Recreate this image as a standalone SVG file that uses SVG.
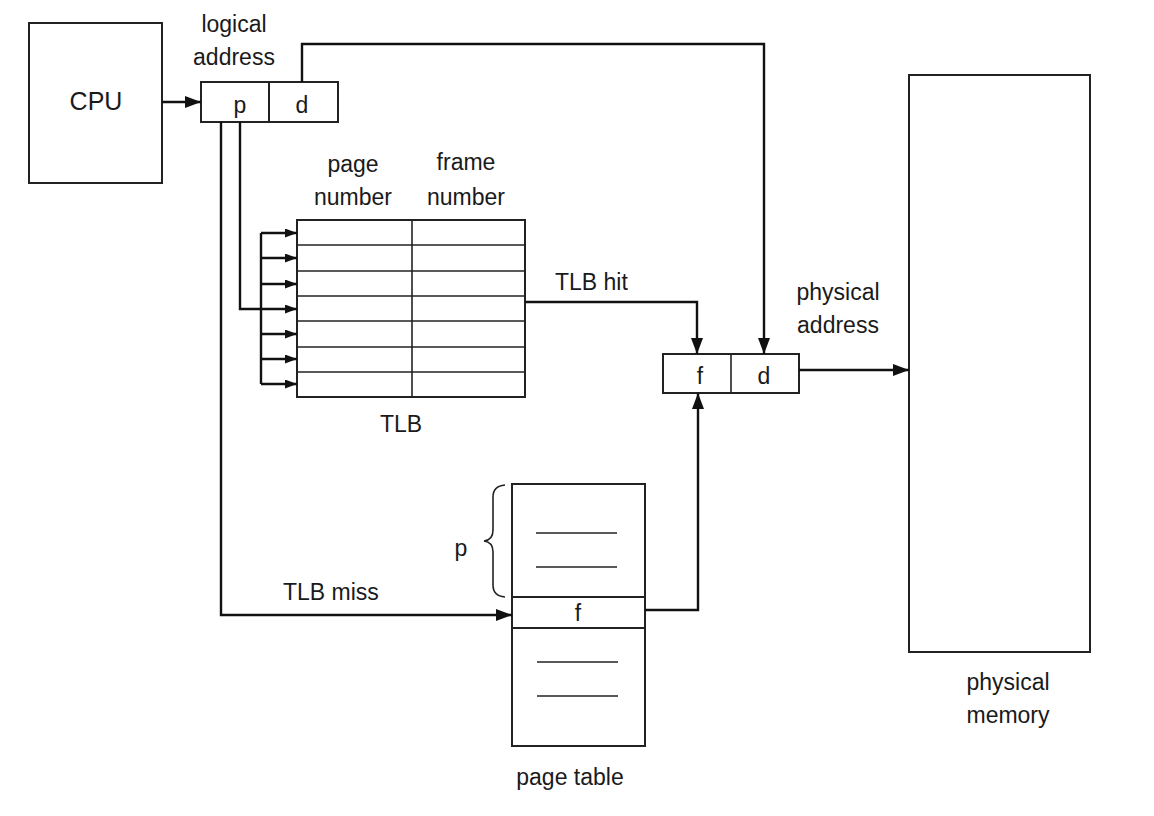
<svg xmlns="http://www.w3.org/2000/svg" width="1154" height="816" viewBox="0 0 1154 816">
<defs>
<marker id="arr" viewBox="0 0 16 12" refX="16" refY="6" markerWidth="16" markerHeight="12" markerUnits="userSpaceOnUse" orient="auto">
<path d="M0,0 L16,6 L0,12 z" fill="#111"/>
</marker>
<marker id="arrs" viewBox="0 0 12 9" refX="12" refY="4.5" markerWidth="12" markerHeight="9" markerUnits="userSpaceOnUse" orient="auto">
<path d="M0,0 L12,4.5 L0,9 z" fill="#111"/>
</marker>
</defs>
<style>
.box{fill:#fff;stroke:#222;stroke-width:2}
.ln{fill:none;stroke:#222;stroke-width:2}
.th{fill:none;stroke:#222;stroke-width:1.6}
.c{fill:none;stroke:#111;stroke-width:2.4}
text{font-family:"Liberation Sans",Arial,sans-serif;font-size:23px;fill:#1a1a1a}
.m{text-anchor:middle}
</style>
<rect width="1154" height="816" fill="#fff"/>

<g id="cpu">
<rect class="box" x="29" y="23" width="133" height="160"/>
<text class="m" x="96" y="110" style="font-size:25px">CPU</text>
</g>

<g id="logical-address">
<text class="m" x="234" y="32">logical</text>
<text class="m" x="234" y="65">address</text>
<rect class="box" x="201" y="82" width="137" height="40"/>
<line class="ln" x1="269" y1="82" x2="269" y2="122"/>
<text class="m" x="240" y="113">p</text>
<text class="m" x="302" y="113">d</text>
</g>

<g id="tlb">
<text class="m" x="353" y="172">page</text>
<text class="m" x="353" y="205">number</text>
<text class="m" x="466" y="170">frame</text>
<text class="m" x="466" y="205">number</text>
<rect class="box" x="297" y="220" width="228" height="177"/>
<line class="th" x1="412" y1="220" x2="412" y2="397"/>
<line class="th" x1="297" y1="245" x2="525" y2="245"/>
<line class="th" x1="297" y1="271" x2="525" y2="271"/>
<line class="th" x1="297" y1="296" x2="525" y2="296"/>
<line class="th" x1="297" y1="321" x2="525" y2="321"/>
<line class="th" x1="297" y1="347" x2="525" y2="347"/>
<line class="th" x1="297" y1="372" x2="525" y2="372"/>
<text class="m" x="401" y="432">TLB</text>
</g>

<g id="physical-address">
<text class="m" x="838" y="300">physical</text>
<text class="m" x="838" y="333">address</text>
<rect class="box" x="663" y="354" width="136" height="39"/>
<line class="th" x1="731" y1="354" x2="731" y2="393"/>
<text class="m" x="700" y="384">f</text>
<text class="m" x="764" y="384">d</text>
</g>

<g id="page-table">
<rect class="box" x="512" y="484" width="133" height="262"/>
<line class="ln" x1="512" y1="597" x2="645" y2="597"/>
<line class="ln" x1="512" y1="628" x2="645" y2="628"/>
<line class="th" x1="536" y1="533" x2="617" y2="533"/>
<line class="th" x1="536" y1="567" x2="617" y2="567"/>
<line class="th" x1="537" y1="662" x2="618" y2="662"/>
<line class="th" x1="537" y1="696" x2="618" y2="696"/>
<text class="m" x="578" y="621">f</text>
<path class="th" d="M505,485 Q493,486 493,497 L493,530 Q493,540 484,541 Q493,542 493,552 L493,585 Q493,596 505,597"/>
<text class="m" x="461" y="556">p</text>
<text class="m" x="570" y="785">page table</text>
</g>

<g id="physical-memory">
<rect class="box" x="909" y="75" width="181" height="577"/>
<text class="m" x="1008" y="690">physical</text>
<text class="m" x="1008" y="723">memory</text>
</g>

<g id="connectors">
<line class="c" x1="162" y1="102" x2="201" y2="102" marker-end="url(#arr)"/>
<polyline class="c" points="302,82 302,44 764,44 764,354" marker-end="url(#arr)"/>
<polyline class="c" points="221,122 221,615 512,615" marker-end="url(#arr)"/>
<polyline class="c" points="240,122 240,309 297,309" marker-end="url(#arrs)"/>
<line class="c" x1="261" y1="233" x2="261" y2="384"/>
<line class="c" x1="261" y1="233" x2="297" y2="233" marker-end="url(#arrs)"/>
<line class="c" x1="261" y1="258" x2="297" y2="258" marker-end="url(#arrs)"/>
<line class="c" x1="261" y1="284" x2="297" y2="284" marker-end="url(#arrs)"/>
<line class="c" x1="261" y1="334" x2="297" y2="334" marker-end="url(#arrs)"/>
<line class="c" x1="261" y1="359" x2="297" y2="359" marker-end="url(#arrs)"/>
<line class="c" x1="261" y1="384" x2="297" y2="384" marker-end="url(#arrs)"/>
<polyline class="c" points="525,302 697,302 697,354" marker-end="url(#arr)"/>
<text x="555" y="290">TLB hit</text>
<polyline class="c" points="645,610 698,610 698,393" marker-end="url(#arr)"/>
<text x="283" y="600">TLB miss</text>
<line class="c" x1="799" y1="370" x2="909" y2="370" marker-end="url(#arr)"/>
</g>
</svg>
